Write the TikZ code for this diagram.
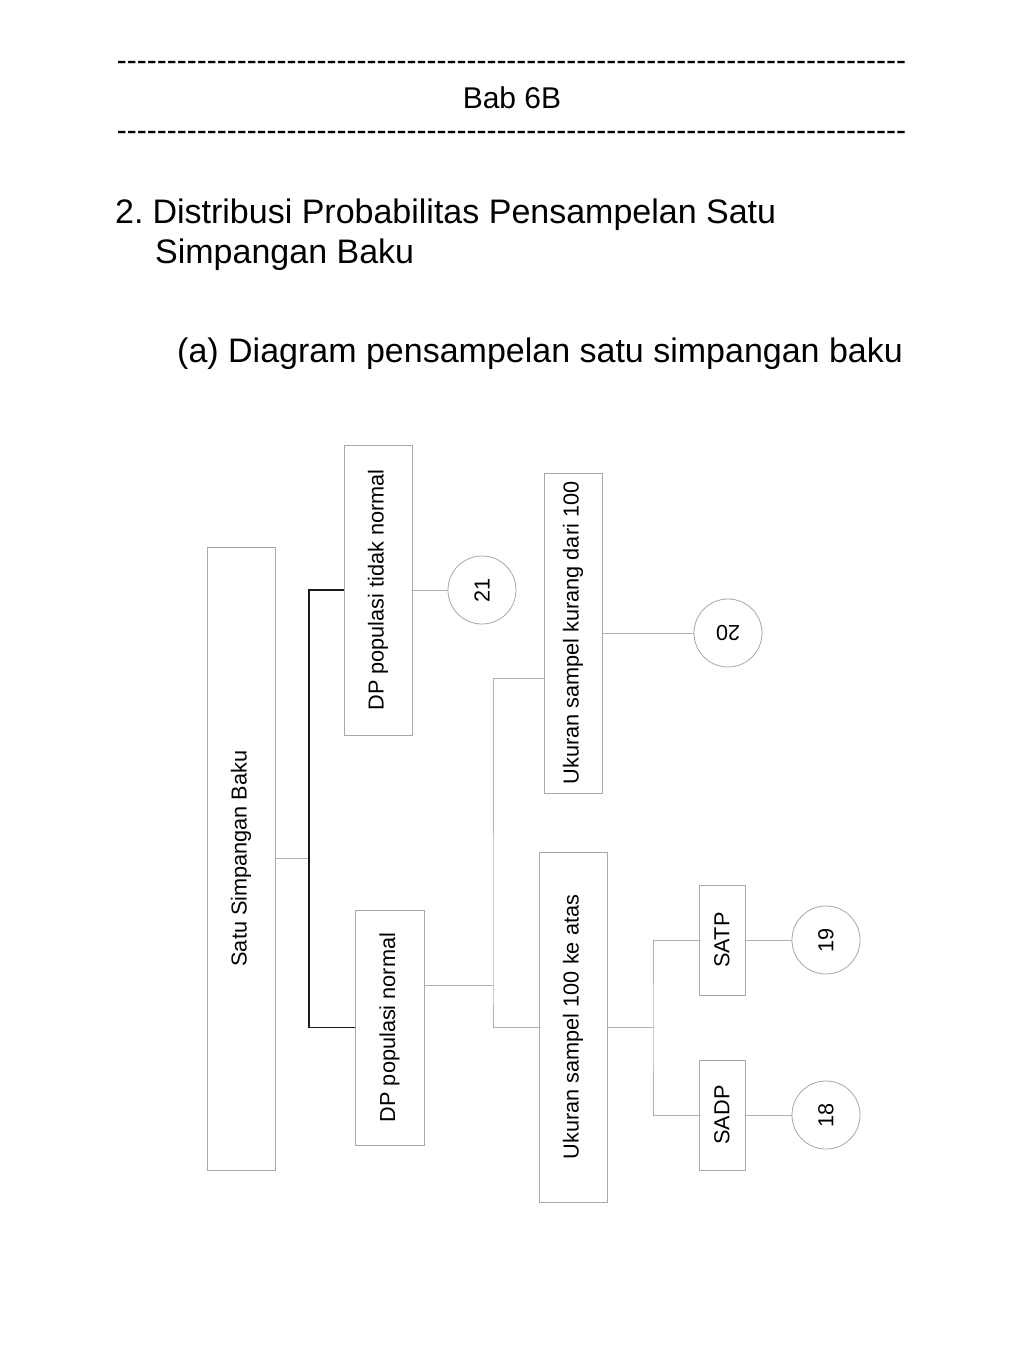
\documentclass[tikz,border=0pt]{standalone}
\usepackage{fontspec}
\setmainfont{Liberation Sans}
\definecolor{boxgray}{HTML}{A8A8A8}
\definecolor{linegray}{HTML}{B0B0B0}
\newcommand\diagfont{\fontsize{21.7}{26}\selectfont}
\newcommand\headfont{\fontsize{34}{40}\selectfont}
\newcommand\babfont{\fontsize{30}{36}\selectfont}
\begin{document}
\begin{tikzpicture}[x=1pt,y=1pt,
  box/.style={draw=boxgray, line width=1pt, inner sep=0pt, fill=white, font=\diagfont},
  circ/.style={circle, draw=boxgray, line width=0.8pt, minimum size=68pt, inner sep=0pt, font=\diagfont},
  conn/.style={draw=linegray, line width=1pt},
  bconn/.style={draw=black!90, line width=1.8pt},
  txt/.style={anchor=base west, inner sep=0pt}]
\useasboundingbox (0,0) rectangle (1024,-1365);
\fill[white] (0,0) rectangle (1024,-1365);
% header
\node[anchor=base, inner sep=0pt, font=\babfont] (d1) at (511.5,-70) {\foreach \i in {1,...,79}{-}};
\node[anchor=base, inner sep=0pt, font=\babfont] (bab) at (512,-108) {Bab 6B};
\node[anchor=base, inner sep=0pt, font=\babfont] (d2) at (511.5,-140) {\foreach \i in {1,...,79}{-}};
\node[txt, font=\headfont] (h1) at (115,-223) {2.\kern9pt Distribusi Probabilitas Pensampelan Satu};
\node[txt, font=\headfont] (h2) at (155,-263) {Simpangan Baku};
\node[txt, font=\headfont] (h3) at (177,-362) {(a) Diagram pensampelan satu simpangan baku};
% boxes
\node[box, minimum width=68pt, minimum height=623pt] (A) at (241,-858.5) {\rotatebox{90}{Satu Simpangan Baku}};
\node[box, minimum width=68pt, minimum height=290pt] (B) at (378,-590) {\rotatebox{90}{DP populasi tidak normal}};
\node[box, minimum width=69pt, minimum height=235pt] (C) at (389.5,-1027.5) {\rotatebox{90}{DP populasi normal}};
\node[box, minimum width=58pt, minimum height=320pt] (D) at (573,-633) {\rotatebox{90}{Ukuran sampel kurang dari 100}};
\node[box, minimum width=68pt, minimum height=350pt] (E) at (573,-1027) {\rotatebox{90}{Ukuran sampel 100 ke atas}};
\node[box, minimum width=46pt, minimum height=110pt] (F) at (722,-940) {\rotatebox{90}{SATP}};
\node[box, minimum width=46pt, minimum height=110pt] (G) at (722,-1115) {\rotatebox{90}{SADP}};
% circles
\node[circ] (c21) at (482,-590) {\rotatebox{90}{21}};
\node[circ] (c20) at (728,-633) {\rotatebox{180}{20}};
\node[circ] (c19) at (826,-940) {\rotatebox{90}{19}};
\node[circ] (c18) at (826,-1115) {\rotatebox{90}{18}};
% junctions
\coordinate (j1) at (309,-858.5);
\coordinate (j2) at (493,-985);
\coordinate (j3) at (653,-1027);
% connectors
\draw[conn] (A.east) -- (j1);
\draw[bconn] (B.west) -| (j1) |- (C.west);
\draw[conn] (B.east) -- (c21.west);
\draw[conn] ([yshift=42.5pt]C.east) -- (j2);
\draw[conn] ([yshift=-45pt]D.west) -| (j2) |- (E.west);
\draw[conn] (D.east) -- (c20.west);
\draw[conn] (E.east) -- (j3);
\draw[conn] (F.west) -| (j3) |- (G.west);
\draw[conn] (F.east) -- (c19.west);
\draw[conn] (G.east) -- (c18.west);
\end{tikzpicture}
\end{document}
